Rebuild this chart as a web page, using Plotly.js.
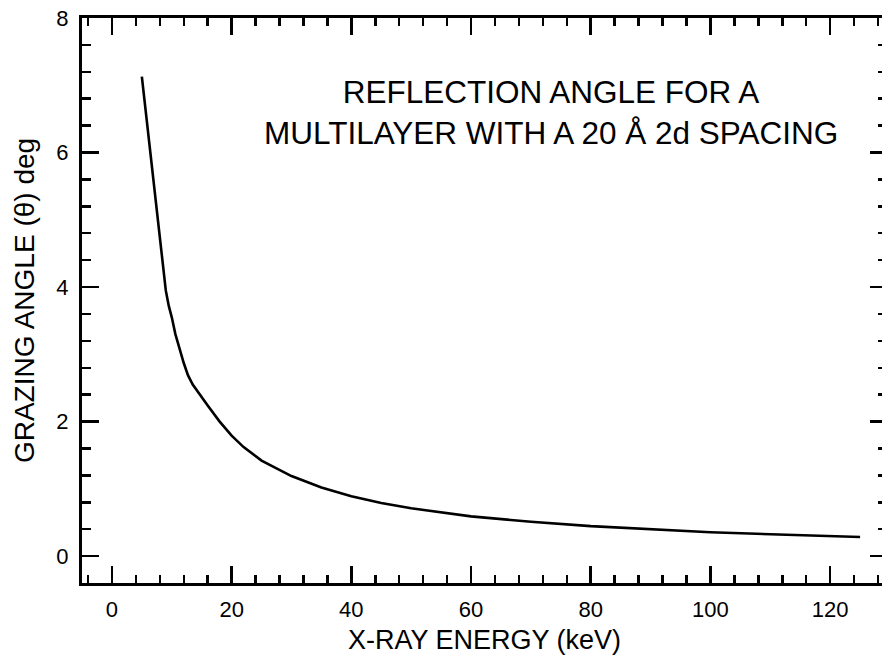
<!DOCTYPE html>
<html>
<head>
<meta charset="utf-8">
<script src="https://cdn.plot.ly/plotly-3.0.1.min.js"></script>
<style>
  html, body { margin: 0; padding: 0; overflow: hidden; background: #fff; }
  #chart { width: 892px; height: 667px; }
</style>
</head>
<body>
<div id="chart"></div>
<script>
// X-ray energy (keV) and grazing angle (deg)
const energyKeV = [5, 8.4, 9.0, 9.5, 10, 10.6, 11.3, 12.0, 12.7, 13.5, 16, 18, 20, 22, 25, 30, 35, 40, 45, 50, 60, 70, 80, 90, 100, 110, 120, 125];
const grazingDeg = [7.13, 4.42, 3.95, 3.72, 3.55, 3.30, 3.08, 2.87, 2.69, 2.55, 2.24, 2.00, 1.79, 1.62, 1.42, 1.19, 1.02, 0.89, 0.79, 0.71, 0.59, 0.51, 0.445, 0.395, 0.355, 0.325, 0.30, 0.285];

const xTickVals = [0, 20, 40, 60, 80, 100, 120];
const yTickVals = [0, 2, 4, 6, 8];

const titleLines = ["REFLECTION ANGLE FOR A", "MULTILAYER WITH A 20 Å 2d SPACING"];
const xTitle = "X-RAY ENERGY (keV)";
const yTitle = "GRAZING ANGLE (θ) deg";

const FONT = "Liberation Sans, Arial, Helvetica, sans-serif";

const trace = {
  x: energyKeV,
  y: grazingDeg,
  type: "scatter",
  mode: "lines",
  line: { color: "#000", width: 2.6 },
  hoverinfo: "skip",
  showlegend: false
};

const axisCommon = {
  showgrid: false,
  zeroline: false,
  showline: true,
  linecolor: "#000",
  linewidth: 3,
  mirror: "allticks",
  ticks: "inside",
  ticklen: 17,
  tickwidth: 2.5,
  tickcolor: "#000",
  tickfont: { family: FONT, size: 22, color: "#000" }
};

const layout = {
  width: 892,
  height: 667,
  margin: { l: 82, r: 5, t: 18, b: 84 },
  paper_bgcolor: "#fff",
  plot_bgcolor: "#fff",
  font: { family: FONT, color: "#000" },
  xaxis: Object.assign({}, axisCommon, {
    range: [-5, 129.5],
    tickvals: xTickVals,
    ticktext: xTickVals.map(String),
    ticklabelstandoff: 5,
    minor: { dtick: 4, tick0: 0, ticks: "inside", ticklen: 8, tickwidth: 2.5, tickcolor: "#000", showgrid: false },
    title: { text: xTitle, font: { family: FONT, size: 27, color: "#000" }, standoff: 9 }
  }),
  yaxis: Object.assign({}, axisCommon, {
    range: [-0.4, 8],
    tickvals: yTickVals,
    ticktext: yTickVals.map(String),
    ticklabelstandoff: 6,
    minor: { dtick: 0.4, tick0: 0, ticks: "inside", ticklen: 9, tickwidth: 2.5, tickcolor: "#000", showgrid: false },
    title: { text: yTitle, font: { family: FONT, size: 28, color: "#000" }, standoff: 14 }
  }),
  annotations: [{
    xref: "paper", yref: "paper",
    x: 0.583, y: 0.832,
    xanchor: "center", yanchor: "middle",
    align: "center",
    showarrow: false,
    text: titleLines.join("<br>"),
    font: { family: FONT, size: 31.5, color: "#000" }
  }]
};

Plotly.newPlot("chart", [trace], layout, { staticPlot: true, displayModeBar: false });
</script>
</body>
</html>
